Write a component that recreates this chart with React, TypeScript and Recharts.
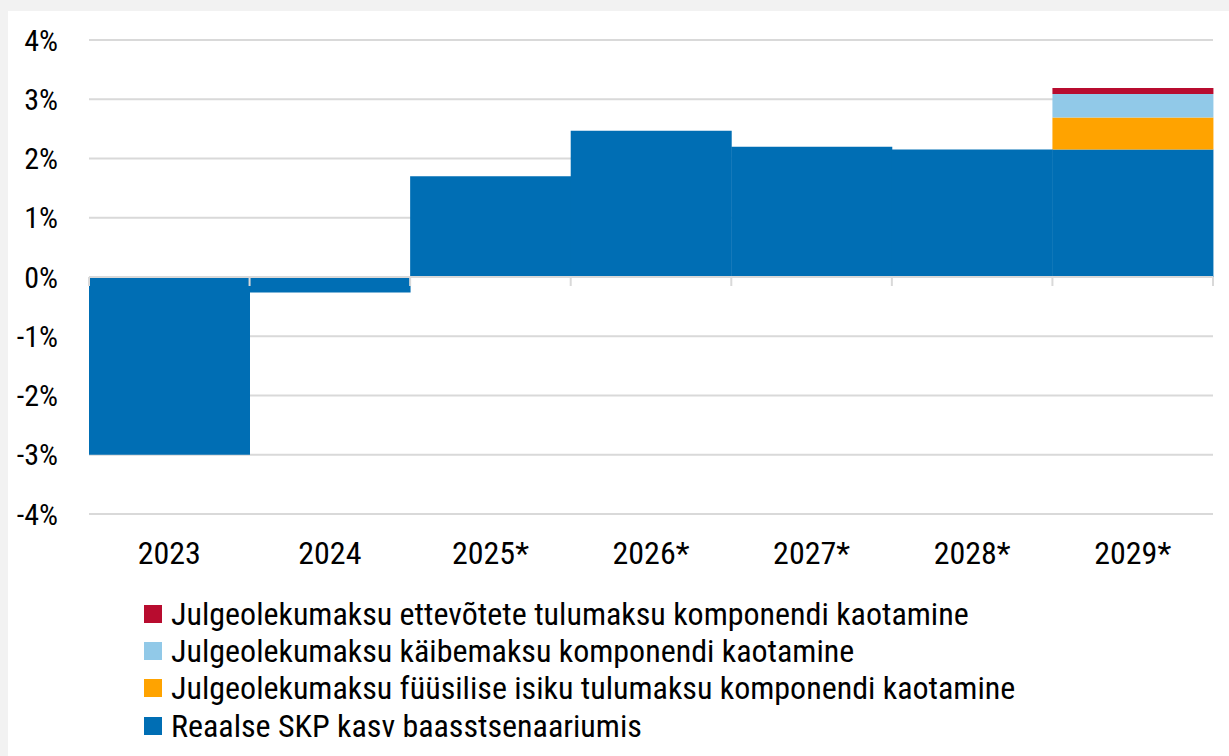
import React from 'react';
import { Bar, BarChart, CartesianGrid, ReferenceLine, XAxis, YAxis } from 'recharts';

const years = ['2023', '2024', '2025*', '2026*', '2027*', '2028*', '2029*'];
const baseGrowth = [-3.0, -0.26, 1.7, 2.47, 2.2, 2.15, 2.15];
const incomeTaxPersonal = [0, 0, 0, 0, 0, 0, 0.54];
const vatComponent = [0, 0, 0, 0, 0, 0, 0.4];
const corporateTax = [0, 0, 0, 0, 0, 0, 0.1];
const yTicks = [-4, -3, -2, -1, 0, 1, 2, 3, 4];

const seriesNames = {
  corp: 'Julgeolekumaksu ettevõtete tulumaksu komponendi kaotamine',
  vat: 'Julgeolekumaksu käibemaksu komponendi kaotamine',
  pit: 'Julgeolekumaksu füüsilise isiku tulumaksu komponendi kaotamine',
  base: 'Reaalse SKP kasv baasstsenaariumis',
};

const colors = {
  corp: '#b80c2f',
  vat: '#91c9e8',
  pit: '#ffa300',
  base: '#006eb4',
};

const data = years.map((year, i) => ({
  year,
  base: baseGrowth[i],
  pit: incomeTaxPersonal[i],
  vat: vatComponent[i],
  corp: corporateTax[i],
}));

const FONT = "'Roboto Condensed', Roboto, sans-serif";

// zero line with small ticks between the categories
const ZeroAxis = (props: any) => {
  const { x1, x2, y1 } = props;
  const step = (x2 - x1) / data.length;
  return (
    <g>
      <line x1={x1} x2={x2} y1={y1} y2={y1} stroke='#d9d9d9' strokeWidth={2} />
      {data.map((_, i) => (
        <line key={i} x1={x1 + i * step} x2={x1 + i * step} y1={y1} y2={y1 + 9} stroke='#d9d9d9' strokeWidth={2} />
      ))}
      <line x1={x2} x2={x2} y1={y1} y2={y1 + 9} stroke='#d9d9d9' strokeWidth={2} />
    </g>
  );
};

const legendOrder: (keyof typeof colors)[] = ['corp', 'vat', 'pit', 'base'];

export default function App() {
  return (
    <div style={{ position: 'absolute', left: 0, top: 0, width: 1229, height: 756, background: '#f2f2f2' }}>
      <div style={{ position: 'absolute', left: 8, top: 11, width: 1221, height: 745, background: '#fff' }}>
        <BarChart
          width={1221}
          height={575}
          data={data}
          barCategoryGap={0}
          stackOffset='sign'
          margin={{ top: 29, right: 16, bottom: 0, left: 0 }}
        >
          <CartesianGrid vertical={false} stroke='#d9d9d9' strokeWidth={2} />
          <XAxis
            dataKey='year'
            axisLine={false}
            tickLine={false}
            tickSize={0}
            tickMargin={27}
            height={72}
            tick={{ fontFamily: FONT, fontSize: 32, fill: '#000' }}
            interval={0}
          />
          <YAxis
            domain={[-4, 4]}
            ticks={yTicks}
            width={81}
            axisLine={false}
            tickLine={false}
            tickSize={0}
            tickMargin={31}
            tickFormatter={(v: number) => `${v}%`}
            tick={{ fontFamily: FONT, fontSize: 30, fill: '#000' }}
          />
          <Bar dataKey='base' stackId='a' fill={colors.base} isAnimationActive={false} />
          <Bar dataKey='pit' stackId='a' fill={colors.pit} isAnimationActive={false} />
          <Bar dataKey='vat' stackId='a' fill={colors.vat} isAnimationActive={false} />
          <Bar dataKey='corp' stackId='a' fill={colors.corp} isAnimationActive={false} />
          <ReferenceLine y={0} shape={ZeroAxis} />
        </BarChart>
        <div style={{ position: 'absolute', left: 136, top: 584, fontFamily: FONT, fontSize: 32, color: '#000' }}>
          {legendOrder.map((k) => (
            <div key={k} style={{ display: 'flex', alignItems: 'center', height: 37.3 }}>
              <span style={{ width: 18, height: 18, background: colors[k], marginRight: 9, display: 'inline-block', flexShrink: 0 }} />
              <span style={{ whiteSpace: 'nowrap' }}>{seriesNames[k]}</span>
            </div>
          ))}
        </div>
      </div>
    </div>
  );
}
